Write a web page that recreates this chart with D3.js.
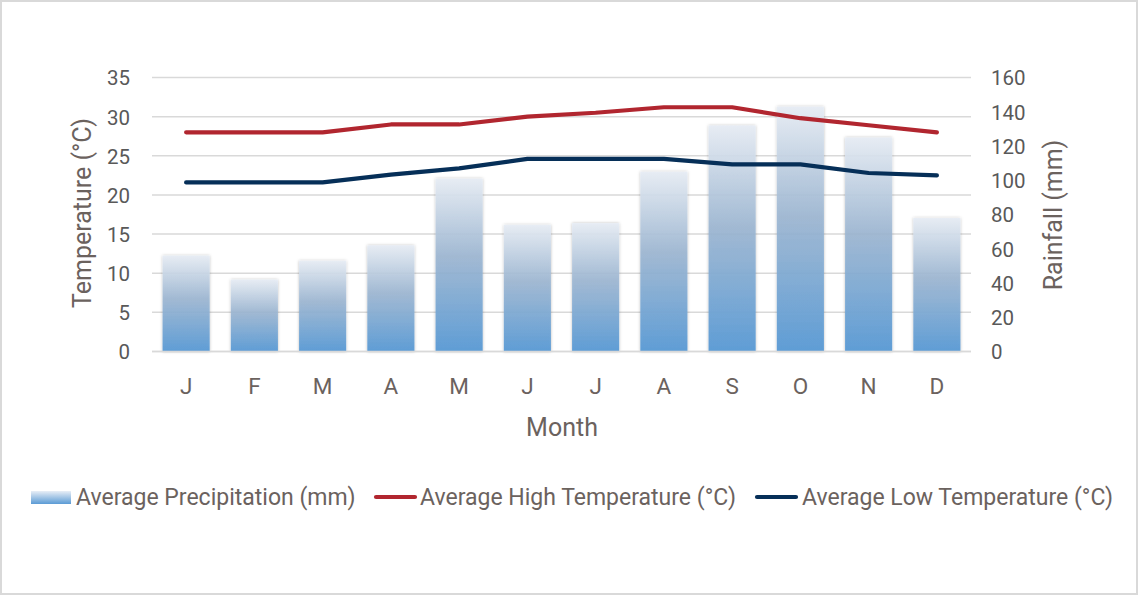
<!DOCTYPE html>
<html>
<head>
<meta charset="utf-8">
<script src="https://cdn.jsdelivr.net/npm/d3@7"></script>
<style>
html,body{margin:0;padding:0;background:#fff;}
svg{display:block;font-family:Roboto, "Noto Sans", sans-serif;}
</style>
</head>
<body>
<svg id="chart" width="1139" height="597"></svg>
<script>
const months = ["J","F","M","A","M","J","J","A","S","O","N","D"];
const precipitation = [56, 42, 53, 62, 101, 74, 75, 105, 132, 143, 125, 78];
const highTemp = [28, 28, 28, 29, 29, 30, 30.5, 31.2, 31.2, 29.8, 28.9, 28];
const lowTemp = [21.6, 21.6, 21.6, 22.6, 23.4, 24.6, 24.6, 24.6, 23.9, 23.9, 22.8, 22.5];
const tempTicks = [0,5,10,15,20,25,30,35];
const rainTicks = [0,20,40,60,80,100,120,140,160];
const legendLabels = ["Average Precipitation (mm)","Average High Temperature (°C)","Average Low Temperature (°C)"];

const svg = d3.select("#chart");
const W = 1139, H = 597;
const m = {left:152, right:971, top:77.5, bottom:351.5};

svg.append("rect").attr("x",1).attr("y",1).attr("width",W-3).attr("height",H-4)
  .attr("fill","#fff").attr("stroke","#d9d9d9").attr("stroke-width",2);

const defs = svg.append("defs");
const grad = defs.append("linearGradient").attr("id","barGrad")
  .attr("x1",0).attr("y1",0).attr("x2",0).attr("y2",1);
grad.append("stop").attr("offset","0%").attr("stop-color","#e8eef6").attr("stop-opacity",0.9);
grad.append("stop").attr("offset","45%").attr("stop-color","#9cb6d2").attr("stop-opacity",0.9);
grad.append("stop").attr("offset","100%").attr("stop-color","#5b9bd5").attr("stop-opacity",0.97);
const flt = defs.append("filter").attr("id","shadow").attr("x","-20%").attr("y","-10%").attr("width","140%").attr("height","120%");
flt.append("feDropShadow").attr("dx",0).attr("dy",0).attr("stdDeviation",1.8)
  .attr("flood-color","#000").attr("flood-opacity",0.28);

const x = d3.scaleBand().domain(d3.range(months.length)).range([m.left, m.right])
  .paddingInner(0.31).paddingOuter(0.155);
const yT = d3.scaleLinear().domain([0,35]).range([m.bottom, m.top]);
const yR = d3.scaleLinear().domain([0,160]).range([m.bottom, m.top]);

// gridlines
svg.append("g").selectAll("line").data(tempTicks).join("line")
  .attr("x1",m.left).attr("x2",m.right)
  .attr("y1",d=>yT(d)).attr("y2",d=>yT(d))
  .attr("stroke","#d9d9d9").attr("stroke-width",1.5);

// bars
svg.append("g").selectAll("rect").data(precipitation).join("rect")
  .attr("x",(d,i)=>x(i)).attr("width",x.bandwidth())
  .attr("y",d=>yR(d)).attr("height",d=>yR(0)-yR(d))
  .attr("fill","url(#barGrad)").attr("filter","url(#shadow)");

// baseline
svg.append("line").attr("x1",m.left).attr("x2",m.right).attr("y1",yT(0)).attr("y2",yT(0))
  .attr("stroke","#d9d9d9").attr("stroke-width",1.5);

// lines
const line = (yScale)=>d3.line().x((d,i)=>x(i)+x.bandwidth()/2).y(d=>yScale(d));
svg.append("path").datum(highTemp).attr("d",line(yT)).attr("fill","none")
  .attr("stroke","#b1262f").attr("stroke-width",4.2).attr("stroke-linecap","round").attr("stroke-linejoin","round");
svg.append("path").datum(lowTemp).attr("d",line(yT)).attr("fill","none")
  .attr("stroke","#062f58").attr("stroke-width",4.2).attr("stroke-linecap","round").attr("stroke-linejoin","round");

// axes
const tickColor = "#595959", titleColor = "#6b625e";
const axL = d3.axisLeft(yT).tickValues(tempTicks).tickSize(0).tickPadding(0);
const gL = svg.append("g").attr("transform",`translate(${m.left-22},0)`).call(axL);
gL.select(".domain").remove();
gL.selectAll("text").attr("font-size",20.5).attr("fill",tickColor).attr("font-family","Roboto").attr("dy","0.36em");

const axR = d3.axisRight(yR).tickValues(rainTicks).tickSize(0).tickPadding(0);
const gR = svg.append("g").attr("transform",`translate(${m.right+20},0)`).call(axR);
gR.select(".domain").remove();
gR.selectAll("text").attr("font-size",20.5).attr("fill",tickColor).attr("font-family","Roboto").attr("dy","0.36em");

const axB = d3.axisBottom(x).tickFormat(i=>months[i]).tickSize(0).tickPadding(0);
const gB = svg.append("g").attr("transform",`translate(0,${m.bottom+27})`).call(axB);
gB.select(".domain").remove();
gB.selectAll("text").attr("font-size",22.5).attr("fill",titleColor).attr("font-family","Roboto").attr("dy","0.71em");

svg.append("text").attr("transform","translate(91,213) rotate(-90)").attr("text-anchor","middle")
  .attr("font-size",25).attr("fill",titleColor).text("Temperature (°C)");
svg.append("text").attr("transform","translate(1062,215) rotate(-90)").attr("text-anchor","middle")
  .attr("font-size",25).attr("fill",titleColor).text("Rainfall (mm)");
svg.append("text").attr("x",562).attr("y",435.5).attr("text-anchor","middle")
  .attr("font-size",25).attr("fill",titleColor).text("Month");

// legend
const leg = svg.append("g");
const legY = 497;
const items = [
  {type:"bar", sx:31, tx:76},
  {type:"line", color:"#b1262f", sx:374, tx:420},
  {type:"line", color:"#062f58", sx:755, tx:802}
];
items.forEach((it,i)=>{
  if(it.type==="bar"){
    const lg = defs.append("linearGradient").attr("id","legGrad").attr("x1",0).attr("y1",0).attr("x2",0).attr("y2",1);
    lg.append("stop").attr("offset","0%").attr("stop-color","#e8eef6");
    lg.append("stop").attr("offset","100%").attr("stop-color","#5b9bd5");
    leg.append("rect").attr("x",it.sx).attr("y",legY-6).attr("width",40).attr("height",13).attr("fill","url(#legGrad)");
  } else {
    leg.append("line").attr("x1",it.sx+2).attr("x2",it.sx+41).attr("y1",legY).attr("y2",legY)
      .attr("stroke",it.color).attr("stroke-width",4.2).attr("stroke-linecap","round");
  }
  leg.append("text").attr("x",it.tx).attr("y",legY).attr("dy","0.35em")
    .attr("font-size",23).attr("fill",titleColor).text(legendLabels[i]);
});
</script>
</body>
</html>
